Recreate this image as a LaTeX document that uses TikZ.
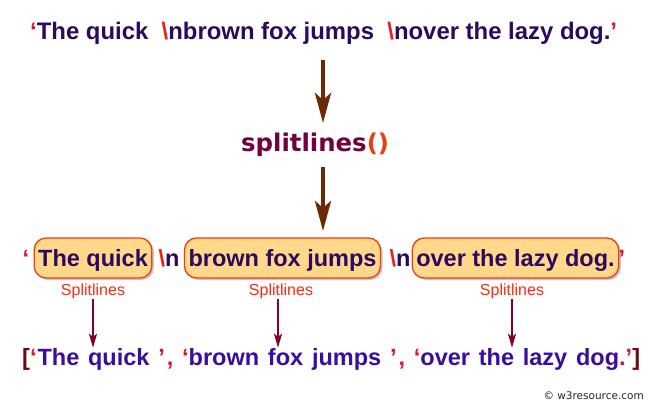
\documentclass[tikz,border=0pt]{standalone}
\usepackage{fontspec}
\setmainfont{Liberation Sans}
\newfontfamily\dejavu{DejaVu Sans}
\usetikzlibrary{arrows.meta,shadows}
\definecolor{txt}{HTML}{2B0A5E}
\definecolor{restxt}{HTML}{3A0CA0}
\definecolor{qred}{HTML}{E01030}
\definecolor{bsred}{HTML}{E82020}
\definecolor{lblred}{HTML}{FF2A10}
\definecolor{fncol}{HTML}{700040}
\definecolor{parcol}{HTML}{E84010}
\definecolor{brcol}{HTML}{6B0A0A}
\definecolor{bigarr}{HTML}{6B2A05}
\definecolor{thinarr}{HTML}{800030}
\definecolor{boxfill}{HTML}{FFD88C}
\definecolor{boxbd}{HTML}{F04010}
\tikzset{
  bigfont/.style={font=\bfseries\fontsize{23.5}{28}\selectfont},
  bigarrow/.style={draw=bigarr, line width=4pt, -{Stealth[length=30pt,width=16pt,inset=7pt]}},
  thinarrow/.style={draw=thinarr, line width=1.8pt, -{Stealth[length=14pt,width=8pt,inset=3pt]}},
  piece/.style={bigfont, text=txt, draw=boxbd, fill=boxfill, line width=1.3pt, rounded corners=12pt,
     text height=18pt, text depth=2pt, inner ysep=10pt, inner xsep=4pt,
     drop shadow={shadow xshift=2pt, shadow yshift=-2pt, fill=black!45}},
  sep/.style={bigfont, text=txt, inner sep=0pt, anchor=base},
  lbl/.style={font=\fontsize{16}{19}\selectfont, text=lblred, inner sep=0pt, anchor=base},
}
\begin{document}
\begin{tikzpicture}[x=1pt,y=-1pt]
\useasboundingbox (0,0) rectangle (648,406);
\fill[white] (0,0) rectangle (648,406);

% source string
\node[font=\bfseries\fontsize{23.9}{28}\selectfont, text=txt, inner sep=0pt, anchor=base west] (src) at (30,39.5)
  {{\color{qred}‘}The quick\ \ {\color{bsred}\textbackslash}nbrown fox jumps\ \ {\color{bsred}\textbackslash}nover the lazy dog.{\color{qred}’}};

% function
\node[font=\dejavu\bfseries\fontsize{24.4}{28}\selectfont, inner sep=0pt, anchor=base west, text=fncol] (fn) at (241,152)
  {splitlines{\color{parcol}()}};

\coordinate (a1top) at (323,60);
\coordinate (a1tip) at (323,123);
\coordinate (a2top) at (323,167);
\coordinate (a2tip) at (323,231);
\draw[bigarrow] (a1top) -- (a1tip);
\draw[bigarrow] (a2top) -- (a2tip);

% pieces
\node[sep, text=qred] (q1) at (26,266) {‘};
\node[piece, anchor=base] (p1) at (93,266) {The quick};
\node[sep] (n1) at (169,266) {{\color{bsred}\textbackslash}n};
\node[piece, anchor=base] (p2) at (282.5,266) {brown fox jumps};
\node[sep] (n2) at (400,266) {{\color{bsred}\textbackslash}n};
\node[piece, anchor=base] (p3) at (515.5,266) {over the lazy dog.};
\node[sep, text=qred] (q2) at (622,266) {’};

% labels
\node[lbl] (l1) at (93,295) {Splitlines};
\node[lbl] (l2) at (281,295) {Splitlines};
\node[lbl] (l3) at (512,295) {Splitlines};

% result
\node[font=\bfseries\fontsize{23.5}{27}\selectfont, text=restxt, inner sep=0pt, anchor=base west] (res) at (22,365)
  {\spaceskip=8.8pt {\color{brcol}[}{\color{qred}‘}\hspace{1pt}The quick {\color{qred}’\hspace{2pt}, ‘}brown fox jumps {\color{qred}’\hspace{2pt}, ‘}over the lazy dog{\color{qred}.’}{\color{brcol}]}};

\draw[thinarrow] (l1.south) -- (l1.south |- res.north);
\draw[thinarrow] ([xshift=-3pt]l2.south) -- ([xshift=-3pt]l2.south |- res.north);
\draw[thinarrow] (l3.south) -- (l3.south |- res.north);

% copyright
\node[font=\dejavu\fontsize{10.5}{12}\selectfont, text=black!85, inner sep=0pt, anchor=base east] (copy) at (644,399) {© w3resource.com};
\end{tikzpicture}
\end{document}
